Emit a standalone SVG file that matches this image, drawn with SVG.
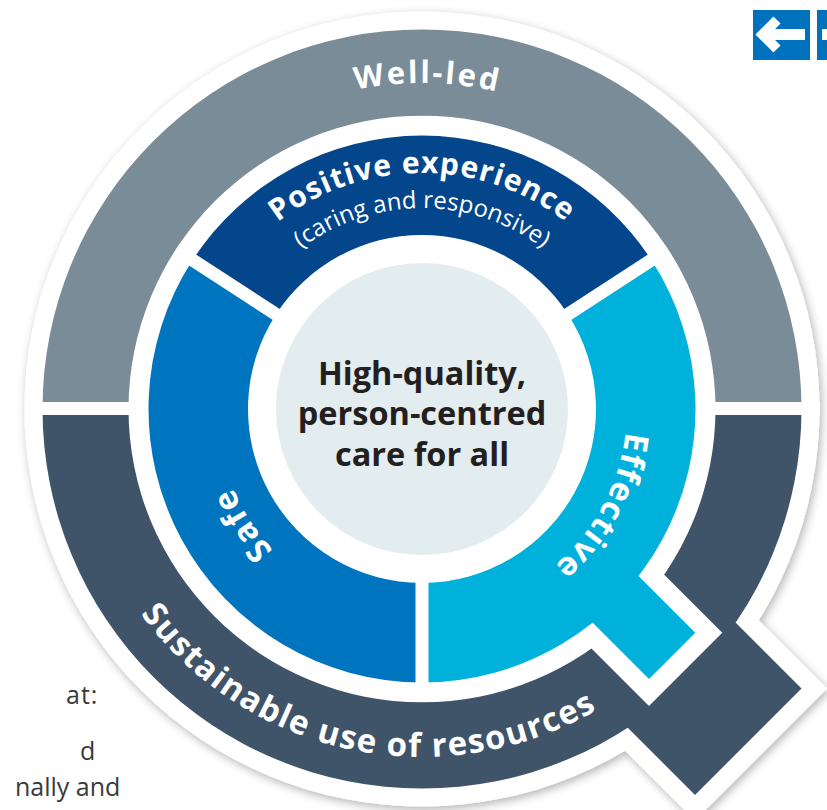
<svg xmlns="http://www.w3.org/2000/svg" width="827" height="810" viewBox="0 0 827 810">
<defs>
<filter id="sh" x="-10%" y="-10%" width="125%" height="125%">
<feDropShadow dx="2" dy="3" stdDeviation="5" flood-color="#000" flood-opacity="0.3"/>
</filter>
<path id="arcWell" d="M 96,409 A 326 326 0 0 1 748,409"/>
<path id="arcPos" d="M 186,409 A 236 236 0 0 1 658,409"/>
<path id="arcCar" d="M 221,409 A 201 201 0 0 1 623,409"/>
<path id="arcCW" d="M 422,204 A 205 205 0 0 1 422,614 A 205 205 0 0 1 422,204"/>
<path id="arcSus" d="M 74,409 A 348 348 0 0 0 770,409"/>
<style>
.lbl{font-family:"Open Sans","Noto Sans","DejaVu Sans",sans-serif;fill:#fff;font-weight:700}
.reg{font-family:"Open Sans","Noto Sans","DejaVu Sans",sans-serif;fill:#fff;font-weight:400}
.ctr{font-family:"Open Sans","Noto Sans","DejaVu Sans",sans-serif;fill:#231f20;font-weight:700;font-size:32.5px;text-anchor:middle}
.page{font-family:"Open Sans","Noto Sans","DejaVu Sans",sans-serif;fill:#3a3a3a;font-size:25px}
.gap{fill:#fff}
.div{stroke:#fff;stroke-width:13;fill:none}
</style>
</defs>
<rect width="827" height="810" fill="#fff"/>

<g id="page-text">
<text class="page" x="66" y="704" letter-spacing="1">at:</text>
<text class="page" x="80" y="760">d</text>
<text class="page" x="15" y="796">nally and</text>
</g>

<g id="nav">
<rect x="753" y="10" width="57" height="50" fill="#0071bc"/>
<rect x="817" y="10" width="20" height="50" fill="#0071bc"/>
<path d="M 777,20 L 762.5,34.5 L 777,49" stroke="#fff" stroke-width="10" fill="none"/>
<rect x="766" y="29" width="39" height="11" fill="#fff"/>
<rect x="822" y="29" width="10" height="11" fill="#fff"/>
</g>

<g id="disc" filter="url(#sh)">
<circle cx="422" cy="409" r="397.5" fill="#fff"/>
<polygon points="696.75,558.25 827,688.5 695,820.5 564.75,690.25" fill="#fff"/>
</g>

<g id="well-led">
<path d="M 42.5,409 A 379.5 379.5 0 0 1 801.5,409 L 715.5,409 A 293.5 293.5 0 0 0 128.5,409 Z" fill="#798c97"/>
<text class="lbl" font-size="31" letter-spacing="2.5" text-anchor="middle"><textPath href="#arcWell" startOffset="517">Well-led</textPath></text>
</g>

<g id="sustainable">
<path d="M 801.5,409 A 379.5 379.5 0 0 1 42.5,409 L 128.5,409 A 293.5 293.5 0 0 0 715.5,409 Z" fill="#3f5468"/>
<polygon points="684,571 801.5,688.5 695,795 577.5,677.5" fill="#3f5468"/>
<rect class="gap" x="30" y="402" width="790" height="13"/>
<polygon class="gap" points="615.75,526.25 722.25,632.75 649,706 542.5,599.5"/>
<text class="lbl" font-size="33" letter-spacing="1.5" text-anchor="middle"><textPath href="#arcSus" startOffset="475">Sustainable use of resources</textPath></text>
</g>

<g id="positive">
<path d="M 192.6,260.1 A 273.5 273.5 0 0 1 651.4,260.1 L 567.9,314.2 A 174 174 0 0 0 276.1,314.2 Z" fill="#03468b"/>
<text class="lbl" font-size="30" letter-spacing="1" text-anchor="middle"><textPath href="#arcPos" startOffset="50%">Positive experience</textPath></text>
<text class="reg" font-size="24" text-anchor="middle"><textPath href="#arcCar" startOffset="50%">(caring and responsive)</textPath></text>
</g>

<g id="effective">
<path d="M 651.4,260.1 A 273.5 273.5 0 0 1 422,682.5 L 422,583 A 174 174 0 0 0 567.9,314.2 Z" fill="#00b1db"/>
<polygon points="602.25,539.75 695.25,632.75 649,679 556,586" fill="#00b1db"/>
<text class="lbl" font-size="33" letter-spacing="1.5" text-anchor="middle"><textPath href="#arcCW" startOffset="423">Effective</textPath></text>
</g>

<g id="safe">
<path d="M 422,682.5 A 273.5 273.5 0 0 1 192.6,260.1 L 276.1,314.2 A 174 174 0 0 0 422,583 Z" fill="#0075bf"/>
<text class="lbl" font-size="33" letter-spacing="1.5" text-anchor="middle"><textPath href="#arcCW" startOffset="848">Safe</textPath></text>
</g>

<g id="dividers">
<line class="div" x1="422" y1="409" x2="661" y2="253.8"/>
<line class="div" x1="422" y1="409" x2="183" y2="253.8"/>
<line class="div" x1="422" y1="409" x2="422" y2="694"/>
</g>

<g id="center">
<circle cx="422" cy="409" r="160" fill="#fff"/>
<circle cx="422" cy="409" r="146" fill="#e3ecee"/>
<text class="ctr" x="422" y="385">High-quality,</text>
<text class="ctr" x="422" y="425">person-centred</text>
<text class="ctr" x="422" y="466">care for all</text>
</g>
</svg>
